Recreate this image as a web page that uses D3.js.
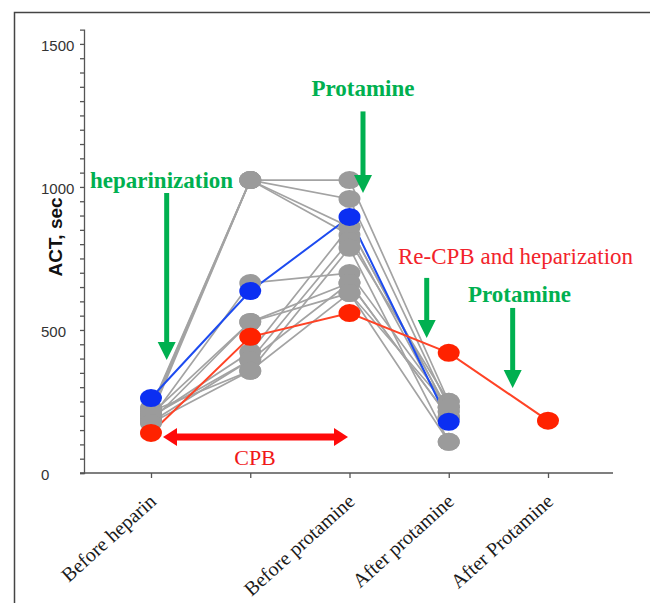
<!DOCTYPE html>
<html>
<head>
<meta charset="utf-8">
<script src="https://cdn.jsdelivr.net/npm/d3@7/dist/d3.min.js"></script>
<style>
  body { margin: 0; background: #fff; }
  svg { display: block; }
</style>
</head>
<body>
<div id="chart"></div>
<script>
// categories on the x axis (the second time point has no label)
const categories = ["Before heparin", "", "Before protamine", "After protamine", "After Protamine"];

// ACT (sec) per patient, one value per time point
const grayPatients = [
  [222, 1024, 1024, 249],
  [210, 1024, 958, 230],
  [200, 1024, 860, 214],
  [228, 1024, 832, 195],
  [190, 664, 699, 230],
  [205, 528, 664, 195],
  [180, 528, 629, 109],
  [195, 423, 860, 214],
  [178, 395, 811, 249],
  [215, 357, 787, 109],
  [198, 395, 664, 195],
  [175, 357, 629, 230]
];
const bluePatient = [262, 636, 895, 179];
const redPatient = [140, 476, 559, 420, 183];

const yMajorTicks = [0, 500, 1000, 1500];
const yMinorTicks = d3.range(0, 1501, 50);

const width = 650, height = 603;

const svg = d3.select("#chart")
    .append("svg")
    .attr("width", width)
    .attr("height", height);

// outer frame
svg.append("rect")
    .attr("x", 14.5).attr("y", 12.5)
    .attr("width", 700).attr("height", 700)
    .style("fill", "none")
    .style("stroke", "#444")
    .style("stroke-width", 1.5);

// scales
const x = d3.scalePoint().domain(d3.range(categories.length)).range([151, 548]);
const xi = d3.scaleLinear().domain([0, categories.length - 1]).range([151, 548]);
const y = d3.scaleLinear().domain([0, 1550]).range([473, 29.6]);

// y axis: minor ticks + line
svg.append("g")
    .attr("transform", "translate(84,0)")
    .call(d3.axisLeft(y).tickValues(yMinorTicks).tickSize(4).tickSizeOuter(4).tickFormat(""))
    .call(g => g.selectAll("path, line").style("stroke", "#555").style("stroke-width", 1.3));

// y tick labels (left aligned)
svg.append("g")
    .selectAll("text")
    .data(yMajorTicks)
    .join("text")
    .attr("x", 41)
    .attr("y", d => y(d) + 2)
    .attr("dy", "0.36em")
    .style("font-family", "'Liberation Sans', Arial, sans-serif")
    .style("font-size", "15px")
    .style("fill", "#333")
    .text(d => d);

// y axis title
svg.append("text")
    .attr("transform", "translate(62,237) rotate(-90)")
    .attr("text-anchor", "middle")
    .style("font-family", "'Liberation Sans', Arial, sans-serif")
    .style("font-weight", "bold")
    .style("font-size", "19px")
    .style("fill", "#111")
    .text("ACT, sec");

// x axis
const xAxis = svg.append("g")
    .attr("transform", "translate(0," + y(0) + ")")
    .call(d3.axisBottom(x).tickSize(5).tickFormat(i => categories[i]));
xAxis.select(".domain").remove();
xAxis.append("line")
    .attr("x1", 80).attr("x2", 613)
    .style("stroke", "#555").style("stroke-width", 1.5);
xAxis.selectAll(".tick line").style("stroke", "#555").style("stroke-width", 1.3);
xAxis.selectAll(".tick text")
    .attr("x", null).attr("y", null).attr("dy", null)
    .attr("transform", "translate(6,30) rotate(-42)")
    .attr("text-anchor", "end")
    .style("font-family", "'Liberation Serif', 'Times New Roman', serif")
    .style("font-size", "20px")
    .style("fill", "#1a1a1a");

const line = d3.line()
    .x((d, i) => x(i))
    .y(d => y(d));

// patient lines
svg.append("g").selectAll("path")
    .data(grayPatients)
    .join("path")
    .attr("d", line)
    .style("fill", "none")
    .style("stroke", "#a3a3a3")
    .style("stroke-width", 1.7);

svg.append("path")
    .attr("d", line(bluePatient))
    .style("fill", "none").style("stroke", "#1d4bf0").style("stroke-width", 2);
svg.append("path")
    .attr("d", line(redPatient))
    .style("fill", "none").style("stroke", "#ff4326").style("stroke-width", 2);

// points
function dots(values, color) {
    svg.append("g").selectAll("ellipse")
        .data(values)
        .join("ellipse")
        .attr("cx", (d, i) => x(i))
        .attr("cy", d => y(d))
        .attr("rx", 11).attr("ry", 9)
        .style("fill", color);
}
grayPatients.forEach(p => dots(p, "#9b9b9b"));
dots(bluePatient, "#0b2ff2");
dots(redPatient, "#ff2200");

// annotations
const green = "#00b050";

function downArrow(idx, v1, v2, color) {
    const cx = xi(idx), top = y(v1), tip = y(v2);
    svg.append("line")
        .attr("x1", cx).attr("x2", cx)
        .attr("y1", top).attr("y2", tip - 14)
        .style("stroke", color).style("stroke-width", 5);
    svg.append("path")
        .attr("d", "M" + (cx - 9) + "," + (tip - 18) + "L" + (cx + 9) + "," + (tip - 18) + "L" + cx + "," + tip + "Z")
        .style("fill", color);
}

function label(idx, v, txt, color, bold, size, anchor) {
    svg.append("text")
        .attr("x", xi(idx))
        .attr("y", y(v))
        .attr("text-anchor", anchor)
        .style("font-family", "'Liberation Serif', 'Times New Roman', serif")
        .style("font-weight", bold ? "bold" : "normal")
        .style("font-size", size + "px")
        .style("fill", color)
        .text(txt);
}

label(-0.615, 996, "heparinization", green, true, 23, "start");
downArrow(0.158, 979, 395, green);

label(2.136, 1318, "Protamine", green, true, 23, "middle");
downArrow(2.136, 1264, 979, green);

label(2.489, 731, "Re-CPB and heparization", "#f2232b", false, 23, "start");
downArrow(2.778, 682, 472, green);

label(3.712, 598, "Protamine", green, true, 23, "middle");
downArrow(3.644, 577, 297, green);

// CPB double arrow
const cpbY = y(126), cx1 = xi(0.121), cx2 = xi(1.985);
svg.append("line")
    .attr("x1", cx1 + 12).attr("x2", cx2 - 12)
    .attr("y1", cpbY).attr("y2", cpbY)
    .style("stroke", "#ff0a0a").style("stroke-width", 7);
svg.append("path")
    .attr("d", "M" + cx1 + "," + cpbY + "L" + (cx1 + 14) + "," + (cpbY - 9) + "L" + (cx1 + 14) + "," + (cpbY + 9) + "Z")
    .style("fill", "#ff0a0a");
svg.append("path")
    .attr("d", "M" + cx2 + "," + cpbY + "L" + (cx2 - 14) + "," + (cpbY - 9) + "L" + (cx2 - 14) + "," + (cpbY + 9) + "Z")
    .style("fill", "#ff0a0a");
label(1.048, 28, "CPB", "#f01818", false, 22, "middle");
</script>
</body>
</html>
